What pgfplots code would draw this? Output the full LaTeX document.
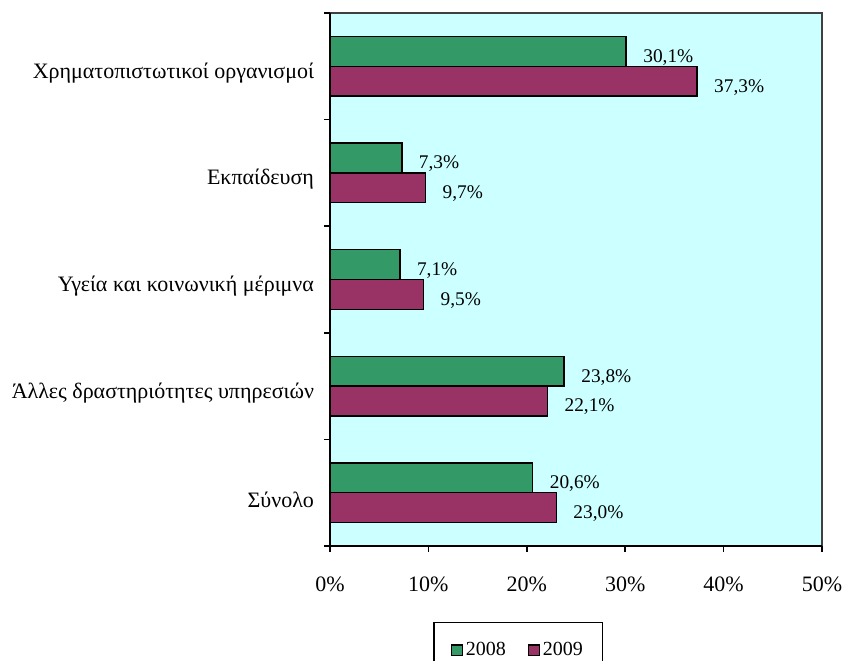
\documentclass[border=0pt]{standalone}
\usepackage{fontspec}
\setmainfont{Liberation Serif}
\usepackage{pgfplots}
\pgfplotsset{compat=1.18}
\definecolor{bg}{HTML}{CCFFFF}
\definecolor{g8}{HTML}{339966}
\definecolor{m9}{HTML}{993366}
\begin{document}
\begin{tikzpicture}
\path[use as bounding box] (-247.5bp,-86.25bp) rectangle (388.5bp,409.5bp);
\begin{axis}[
  at={(0,0)}, anchor=south west,
  scale only axis, width=369bp, height=399.75bp,
  xmin=0, xmax=50, ymin=-0.5, ymax=4.5,
  axis background/.style={fill=bg},
  axis line style={draw=none},
  xtick={0,10,20,30,40,50},
  xticklabels={0\%,10\%,20\%,30\%,40\%,50\%},
  ytick={-0.5,0.5,1.5,2.5,3.5,4.5},
  yticklabels={Σύνολο,Άλλες δραστηριότητες υπηρεσιών,Υγεία και κοινωνική μέριμνα,Εκπαίδευση,Χρηματοπιστωτικοί οργανισμοί},
  y tick label as interval,
  tick align=outside, major tick length=4.5bp,
  tick style={black, line width=1.1bp},
  xtick pos=bottom, ytick pos=left,
  tick label style={font=\fontsize{16.5bp}{19bp}\selectfont},
  xticklabel style={yshift=-15bp},
  yticklabel style={xshift=-4bp, yshift=-5bp},
  xbar, bar width=0.28,
  clip=false,
  point meta=x,
  /pgf/number format/assume math mode=true,
  nodes near coords={\pgfmathprintnumber[fixed,fixed zerofill,precision=1,use comma]{\pgfplotspointmeta}\%},
  nodes near coords style={font=\fontsize{14.5bp}{17bp}\selectfont, anchor=west, xshift=9bp, yshift=-4.5bp, black},
  legend columns=2,
  legend style={at={(0.383,-0.1426)}, anchor=north, draw=black, line width=1bp,
    font=\fontsize{15bp}{17bp}\selectfont, inner xsep=13bp, inner ysep=13bp,
    /tikz/every even column/.append style={column sep=15bp},
    nodes={inner xsep=2bp}},
  legend cell align=left,
]
\addplot[fill=g8, draw=black, line width=1.1bp, bar shift=0.14,
  legend image code/.code={\draw[fill=g8,draw=black,line width=0.8bp] (0bp,-4bp) rectangle (8bp,4bp);}]
  coordinates {(20.6,0) (23.8,1) (7.1,2) (7.3,3) (30.1,4)};
\addlegendentry{2008}
\addplot[fill=m9, draw=black, line width=1.1bp, bar shift=-0.14,
  legend image code/.code={\draw[fill=m9,draw=black,line width=0.8bp] (0bp,-4bp) rectangle (8bp,4bp);}]
  coordinates {(23.0,0) (22.1,1) (9.5,2) (9.7,3) (37.3,4)};
\addlegendentry{2009}
\draw[draw=black!75, line width=1bp] (rel axis cs:0,1) -- (rel axis cs:1,1) -- (rel axis cs:1,0);
\draw[black, line width=2.2bp] (rel axis cs:0,1) -- (rel axis cs:0,0) -- (rel axis cs:1,0);
\end{axis}
\end{tikzpicture}
\end{document}
